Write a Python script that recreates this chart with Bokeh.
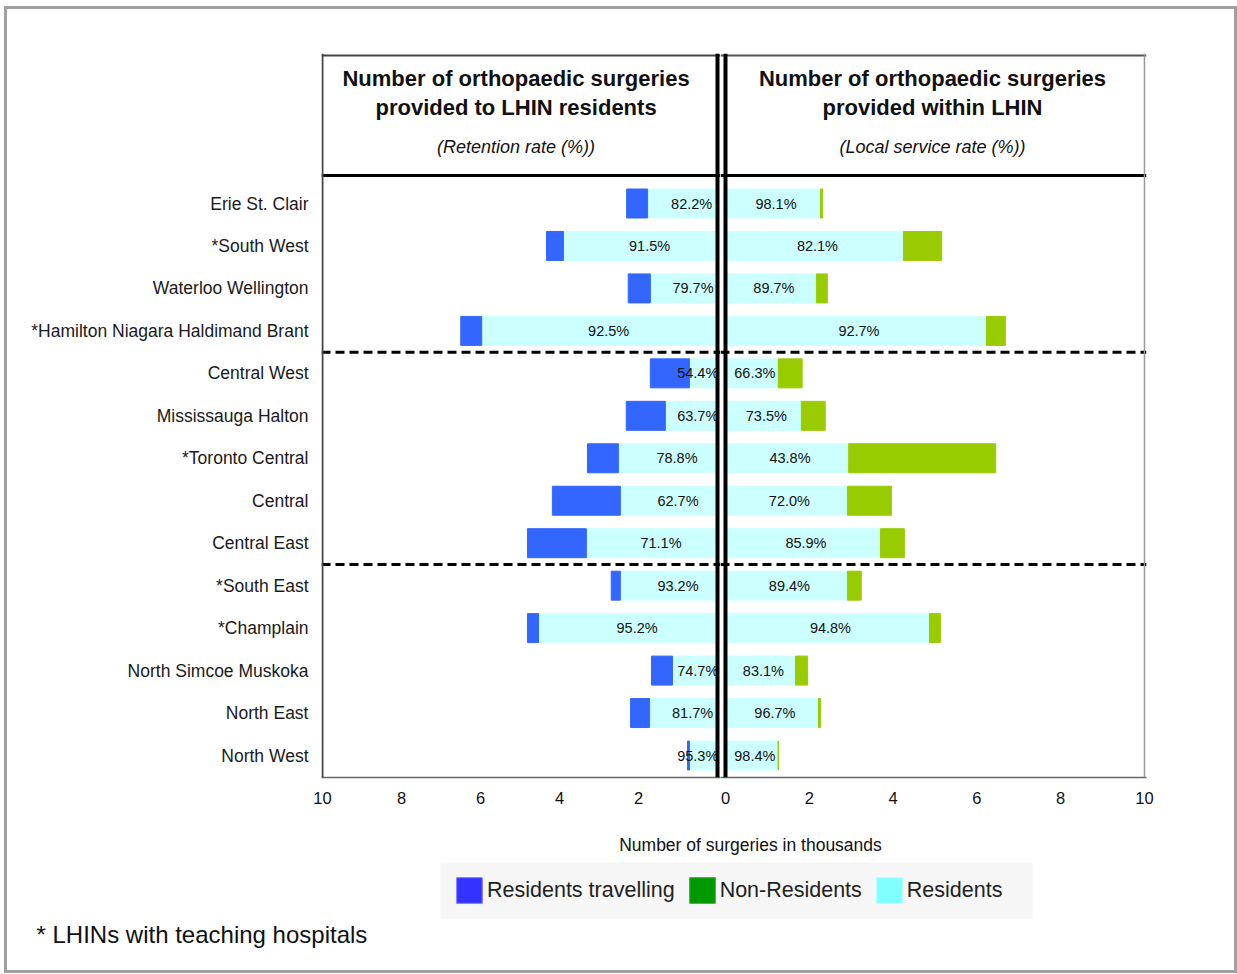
from bokeh.plotting import figure
from bokeh.models import (Range1d, FixedTicker, Span, ColumnDataSource, Legend, LegendItem,
                          BoxAnnotation)
from bokeh.layouts import column, row
from bokeh.embed import file_html
from bokeh.resources import INLINE
from bokeh.core.properties import value

# ---------------- data ----------------
lhins = ["Erie St. Clair", "*South West", "Waterloo Wellington",
         "*Hamilton Niagara Haldimand Brant", "Central West", "Mississauga Halton",
         "*Toronto Central", "Central", "Central East", "*South East", "*Champlain",
         "North Simcoe Muskoka", "North East", "North West"]
# left panel: surgeries provided to LHIN residents (thousands)
residents_retained = [1.77, 3.90, 1.70, 5.97, 0.71, 1.32, 2.51, 2.46, 3.32, 2.46, 4.53, 1.14, 1.72, 0.71]
residents_travelling = [0.53, 0.43, 0.56, 0.53, 0.99, 0.99, 0.78, 1.72, 1.49, 0.23, 0.28, 0.53, 0.48, 0.05]
retention_rate = ["82.2%", "91.5%", "79.7%", "92.5%", "54.4%", "63.7%", "78.8%", "62.7%",
                  "71.1%", "93.2%", "95.2%", "74.7%", "81.7%", "95.3%"]
# right panel: surgeries provided within LHIN (thousands)
residents_local = [2.27, 4.25, 2.17, 6.23, 1.26, 1.81, 2.94, 2.91, 3.70, 2.91, 4.87, 1.67, 2.22, 1.26]
non_residents = [0.05, 0.91, 0.26, 0.45, 0.57, 0.57, 3.51, 1.05, 0.57, 0.33, 0.26, 0.29, 0.05, 0.0]
local_service_rate = ["98.1%", "82.1%", "89.7%", "92.7%", "66.3%", "73.5%", "43.8%", "72.0%",
                      "85.9%", "89.4%", "94.8%", "83.1%", "96.7%", "98.4%"]
left_ticks = [2, 4, 6, 8, 10]
right_ticks = [0, 2, 4, 6, 8, 10]
group_breaks = [3.5, 8.5]
legend_names = ["Residents travelling", "Non-Residents", "Residents"]

idx = list(range(len(lhins)))
FONT_NAME = "Liberation Sans"
FONT = value(FONT_NAME)
C_BLUE, C_CYAN, C_GREEN = "#3366ff", "#ccffff", "#99cc00"
BAR_H = 0.683
Y_RANGE = (13.518, -3.533)
HEADER_TOP = -3.486
HEADER_SEP = -0.66

src_l = ColumnDataSource(dict(
    idx=idx, res=residents_retained, trav=residents_travelling, lab=retention_rate,
    lx=[max(r / 2 - 0.23, 0.5) for r in residents_retained]))
src_r = ColumnDataSource(dict(
    idx=idx, res=residents_local, nonres=non_residents, lab=local_service_rate,
    lx=[r / 2 + 0.07 for r in residents_local]))


def style_common(p):
    p.grid.visible = False
    p.outline_line_color = None
    p.background_fill_color = "white"
    p.border_fill_color = "white"
    p.xaxis.major_tick_line_color = None
    p.xaxis.minor_tick_line_color = None
    p.xaxis.axis_line_color = "#666666"
    p.xaxis.axis_line_width = 1.5
    p.xaxis.major_label_text_font = FONT_NAME
    p.xaxis.major_label_text_font_size = "16.5px"
    p.xaxis.major_label_text_color = "#111111"
    p.xaxis.major_label_standoff = 8


# ---------------- left panel ----------------
pl = figure(width=713, height=806, x_range=Range1d(10.025, -0.076), y_range=Range1d(*Y_RANGE),
            output_backend="svg", toolbar_location=None, title=None,
            min_border_left=314, min_border_right=0, min_border_top=44, min_border_bottom=38)
style_common(pl)
pl.hbar_stack(["res", "trav"], y="idx", height=BAR_H, color=[C_CYAN, C_BLUE], source=src_l)
pl.text(x="lx", y="idx", text="lab", source=src_l, text_align="center", text_baseline="middle",
        text_font=FONT, text_font_size="14.5px", text_color="#111111")
pl.xaxis.ticker = FixedTicker(ticks=left_ticks)
pl.yaxis.ticker = FixedTicker(ticks=idx)
pl.yaxis.major_label_overrides = {i: n for i, n in zip(idx, lhins)}
pl.yaxis.axis_line_color = None
pl.yaxis.major_tick_line_color = None
pl.yaxis.minor_tick_line_color = None
pl.yaxis.major_label_standoff = 7
pl.yaxis.major_label_text_font = FONT_NAME
pl.yaxis.major_label_text_font_size = "17.5px"
pl.yaxis.major_label_text_color = "#1a1a1a"

pl.text(x=[5.1, 5.1], y=[-2.944, -2.261],
        text=["Number of orthopaedic surgeries", "provided to LHIN residents"],
        text_align="center", text_baseline="middle", text_font=FONT,
        text_font_size="22px", text_font_style="bold", text_color="#111111")
pl.text(x=[5.1], y=[-1.342], text=["(Retention rate (%))"], text_align="center",
        text_baseline="middle", text_font=FONT, text_font_size="18px",
        text_font_style="italic", text_color="#111111")

for b in group_breaks:
    pl.add_layout(Span(location=b, dimension="width", line_color="black", line_width=3,
                       line_dash="9 5"))
pl.add_layout(Span(location=HEADER_TOP, dimension="width", line_color="#444444", line_width=2))
pl.add_layout(Span(location=HEADER_SEP, dimension="width", line_color="black", line_width=3))
pl.add_layout(Span(location=10, dimension="height", line_color="#444444", line_width=2))
pl.add_layout(Span(location=0, dimension="height", line_color="black", line_width=4))

# ---------------- right panel ----------------
pr = figure(width=514, height=806, x_range=Range1d(-0.119, 10.048), y_range=Range1d(*Y_RANGE),
            output_backend="svg", toolbar_location=None, title=None, y_axis_location=None,
            min_border_left=0, min_border_right=88, min_border_top=44, min_border_bottom=38)
style_common(pr)
pr.hbar_stack(["res", "nonres"], y="idx", height=BAR_H, color=[C_CYAN, C_GREEN], source=src_r)
pr.text(x="lx", y="idx", text="lab", source=src_r, text_align="center", text_baseline="middle",
        text_font=FONT, text_font_size="14.5px", text_color="#111111")
pr.xaxis.ticker = FixedTicker(ticks=right_ticks)

pr.text(x=[4.94, 4.94], y=[-2.944, -2.261],
        text=["Number of orthopaedic surgeries", "provided within LHIN"],
        text_align="center", text_baseline="middle", text_font=FONT,
        text_font_size="22px", text_font_style="bold", text_color="#111111")
pr.text(x=[4.94], y=[-1.342], text=["(Local service rate (%))"], text_align="center",
        text_baseline="middle", text_font=FONT, text_font_size="18px",
        text_font_style="italic", text_color="#111111")

for b in group_breaks:
    pr.add_layout(Span(location=b, dimension="width", line_color="black", line_width=3,
                       line_dash="9 5"))
pr.add_layout(Span(location=HEADER_TOP, dimension="width", line_color="#555555", line_width=2))
pr.add_layout(Span(location=HEADER_SEP, dimension="width", line_color="black", line_width=3))
pr.add_layout(Span(location=10, dimension="height", line_color="#999999", line_width=1.5))
pr.add_layout(Span(location=0, dimension="height", line_color="black", line_width=4))

# ---------------- bottom strip: axis title, legend, footnote ----------------
pb = figure(width=1227, height=155, x_range=Range1d(7, 1234), y_range=Range1d(970, 815),
            output_backend="svg", toolbar_location=None, title=None,
            x_axis_location=None, y_axis_location=None,
            min_border_left=0, min_border_right=0, min_border_top=0, min_border_bottom=0)
pb.grid.visible = False
pb.outline_line_color = None
pb.text(x=[750], y=[844], text=["Number of surgeries in thousands"], text_align="center",
        text_baseline="middle", text_font=FONT, text_font_size="17.5px", text_color="#111111")
pb.text(x=[36], y=[934], text=["* LHINs with teaching hospitals"], text_align="left",
        text_baseline="middle", text_font=FONT, text_font_size="24px", text_color="#111111")

# legend backdrop (light grey panel behind the legend)
pb.add_layout(BoxAnnotation(left=440, right=1032, top=862, bottom=918, fill_color="#f6f6f6",
                            fill_alpha=1.0, line_color=None, level="underlay"))

legend_colors = ["#3333ff", "#009900", "#80ffff"]
legend_lines = ["#7777ff", "#33aa33", "#b0ffff"]
items = []
for name, fc, lc in zip(legend_names, legend_colors, legend_lines):
    # single off-screen swatch so the legend has a glyph to draw
    r = pb.quad(left=[0], right=[1], top=[0], bottom=[1], fill_color=fc, line_color=lc)
    items.append(LegendItem(label=name, renderers=[r]))
legend = Legend(items=items, orientation="horizontal", location=(446, 64),
                glyph_width=32, glyph_height=32, label_height=32, label_standoff=2,
                spacing=11, padding=0, margin=0,
                background_fill_alpha=0.0, border_line_color=None,
                label_text_font=FONT_NAME, label_text_font_size="21.5px",
                label_text_color="#222222")
pb.add_layout(legend)

layout = column(row(pl, pr), pb,
                styles={"border": "3px solid #a0a0a0", "margin-left": "4px", "margin-top": "6px"})

open("out.html", "w").write(file_html(layout, INLINE))
